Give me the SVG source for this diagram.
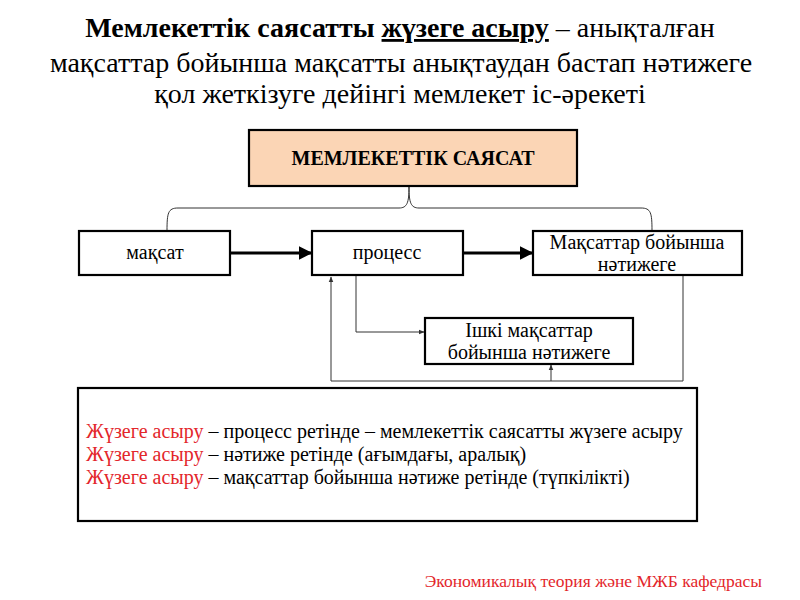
<svg xmlns="http://www.w3.org/2000/svg" width="800" height="600" viewBox="0 0 800 600">
<style>
text{font-family:"Liberation Serif","Times New Roman",serif;fill:#000}
.t{font-size:28px}
.n{font-size:20px}
.red{fill:#E3262B}
.box{fill:#fff;stroke:#000;stroke-width:2.2}
.thin{fill:none;stroke:#333;stroke-width:1}
.thick{fill:none;stroke:#000;stroke-width:3}
</style>
<defs>
<marker id="big" viewBox="0 0 10 10" refX="9" refY="5" markerWidth="4.5" markerHeight="4.5" orient="auto" markerUnits="strokeWidth">
<path d="M0,0 L10,5 L0,10 Z" fill="#000"/>
</marker>
<marker id="small" viewBox="0 0 10 10" refX="9" refY="5" markerWidth="6" markerHeight="6" orient="auto" markerUnits="strokeWidth">
<path d="M0,1 L10,5 L0,9 Z" fill="#333"/>
</marker>
</defs>
<g id="title">
<text class="t" x="400" y="37" text-anchor="middle"><tspan font-weight="bold">Мемлекеттік саясатты <tspan text-decoration="underline">жүзеге асыру</tspan></tspan> – анықталған</text>
<text class="t" x="401" y="72" text-anchor="middle">мақсаттар бойынша мақсатты анықтаудан бастап нәтижеге</text>
<text class="t" x="400" y="103" text-anchor="middle">қол жеткізуге дейінгі мемлекет іс-әрекеті</text>
</g>
<g id="connectors">
<path class="thin" d="M167,231 C167,213 168,208 178,208 L399,208 C407,208 409,203 409,187 C409,203 411,208 419,208 L641,208 C651,208 652,213 652,231"/>
<line class="thick" x1="230" y1="253" x2="311" y2="253" marker-end="url(#big)"/>
<line class="thick" x1="463" y1="253" x2="532" y2="253" marker-end="url(#big)"/>
<polyline class="thin" points="356,276 356,332 424,332" marker-end="url(#small)"/>
<polyline class="thin" points="683,276 683,381 331,381 331,277" marker-end="url(#small)"/>
<line class="thin" x1="551" y1="381" x2="551" y2="365" marker-end="url(#small)"/>
</g>
<g id="node-policy">
<rect x="249" y="130" width="328" height="56" fill="#FBD5B5" stroke="#000" stroke-width="2.2"/>
<text x="413" y="165" text-anchor="middle" font-size="20" font-weight="bold">МЕМЛЕКЕТТІК САЯСАТ</text>
</g>
<g id="node-goal">
<rect class="box" x="79" y="231" width="151" height="44"/>
<text class="n" x="155" y="259" text-anchor="middle">мақсат</text>
</g>
<g id="node-process">
<rect class="box" x="312" y="231" width="151" height="44"/>
<text class="n" x="387" y="259" text-anchor="middle">процесс</text>
</g>
<g id="node-result">
<rect class="box" x="533" y="231" width="209" height="44"/>
<text class="n" x="637" y="249" text-anchor="middle">Мақсаттар бойынша</text>
<text class="n" x="637" y="271" text-anchor="middle">нәтижеге</text>
</g>
<g id="node-inner">
<rect class="box" x="425" y="318" width="208" height="46"/>
<text class="n" x="529" y="337" text-anchor="middle">Ішкі мақсаттар</text>
<text class="n" x="529" y="359" text-anchor="middle">бойынша нәтижеге</text>
</g>
<g id="node-notes">
<rect class="box" x="78" y="388" width="619" height="133"/>
<text class="n" x="86" y="438"><tspan class="red">Жүзеге асыру</tspan> – процесс ретінде – мемлекеттік саясатты жүзеге асыру</text>
<text class="n" x="86" y="461"><tspan class="red">Жүзеге асыру</tspan> – нәтиже ретінде (ағымдағы, аралық)</text>
<text class="n" x="86" y="484"><tspan class="red">Жүзеге асыру</tspan> – мақсаттар бойынша нәтиже ретінде (түпкілікті)</text>
</g>
<g id="footer">
<text x="762" y="587" text-anchor="end" font-size="17.5" class="red">Экономикалық теория және МЖБ кафедрасы</text>
</g>
</svg>
